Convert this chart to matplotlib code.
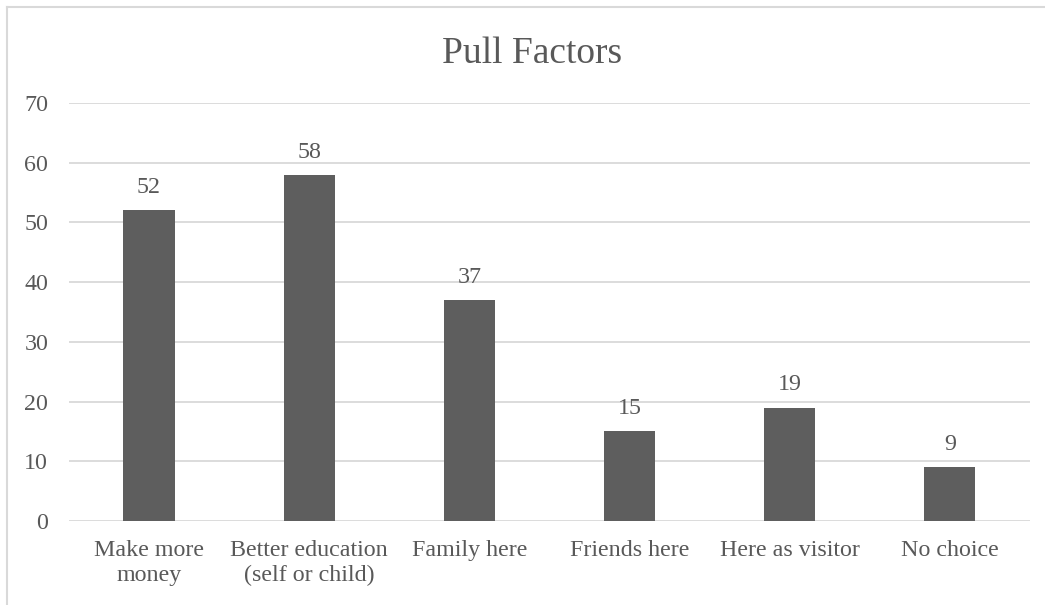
import matplotlib.pyplot as plt
from matplotlib.lines import Line2D

categories = ["Make more\nmoney", "Better education\n(self or child)", "Family here",
              "Friends here", "Here as visitor", "No choice"]
values = [52, 58, 37, 15, 19, 9]
y_ticks = [0, 10, 20, 30, 40, 50, 60, 70]

plt.rcParams['font.family'] = ['Liberation Serif', 'DejaVu Serif']
text_color = "#595959"
grid_color = "#d9d9d9"
bar_color = "#5e5e5e"
label_size = 17.3

fig = plt.figure(figsize=(10.45, 6.05), dpi=100)
ax = fig.add_axes([0.066, 0.1388, 0.9196, 0.691])

x = range(len(categories))
ax.bar(x, values, width=0.32, color=bar_color, zorder=3)

for xi, v in zip(x, values):
    ax.annotate(str(v), (xi, v), xytext=(0, 12.3), textcoords="offset points",
                ha="center", va="baseline", fontsize=label_size, color=text_color)

ax.set_xlim(-0.5, len(categories) - 0.5)
ax.set_ylim(0, 70)
ax.set_yticks(y_ticks)
ax.set_yticklabels([str(t) for t in y_ticks])
ax.set_xticks(list(x))
ax.set_xticklabels(categories)
ax.tick_params(axis="y", length=0, pad=15, labelsize=label_size, labelcolor=text_color)
ax.tick_params(axis="x", length=0, pad=14, labelsize=label_size, labelcolor=text_color)
for lbl in ax.get_xticklabels():
    lbl.set_linespacing(1.2)

ax.grid(axis="y", color=grid_color, linewidth=1.3, zorder=0)
for s in ax.spines.values():
    s.set_visible(False)

fig.text(0.5096, 1 - 63 / 605, "Pull Factors", ha="center", va="baseline",
         fontsize=27, color=text_color)

# chart frame (top and left edges)
fig.add_artist(Line2D([7 / 1045, 1.0], [1 - 7 / 605, 1 - 7 / 605],
                      color=grid_color, linewidth=1.5, transform=fig.transFigure))
fig.add_artist(Line2D([7 / 1045, 7 / 1045], [0.0, 1 - 7 / 605],
                      color=grid_color, linewidth=1.5, transform=fig.transFigure))

fig.savefig("out.png", dpi=100)
